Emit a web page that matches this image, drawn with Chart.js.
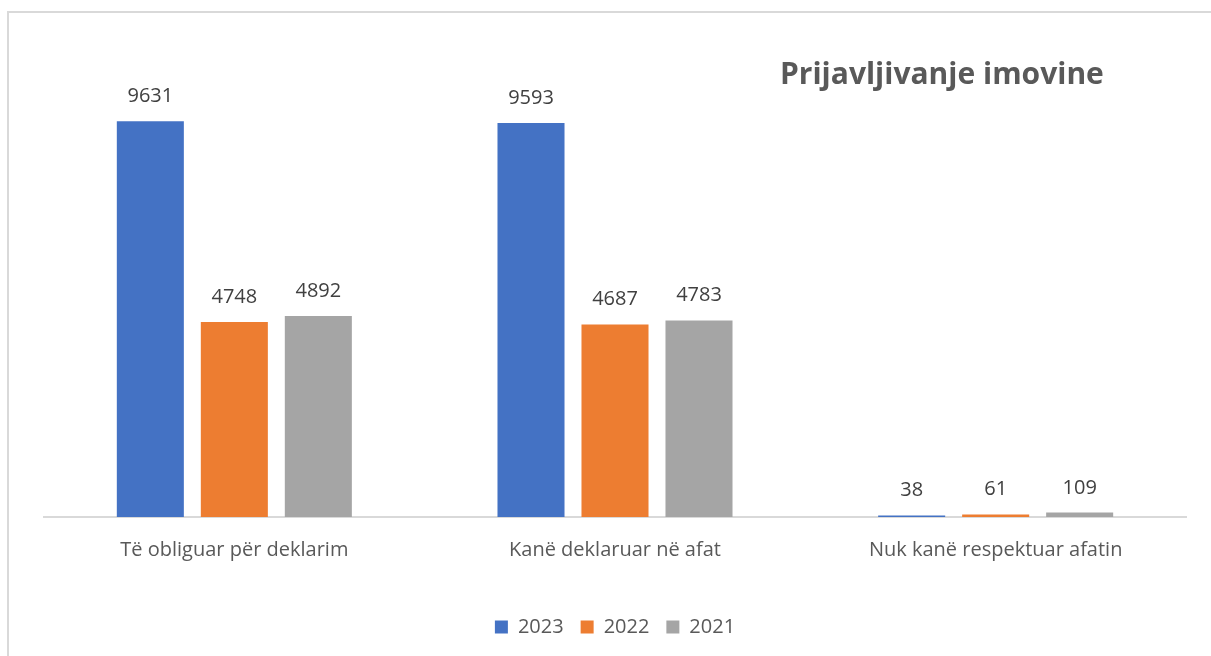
<!DOCTYPE html>
<html>
<head>
<meta charset="utf-8">
<script src="https://cdn.jsdelivr.net/npm/chart.js@4/dist/chart.umd.min.js"></script>
<style>
  body { margin: 0; background: #fff; }
  #wrap { position: relative; width: 1211px; height: 656px; overflow: hidden; }
  #frame { position: absolute; left: 7px; top: 11px; right: -10px; bottom: -10px;
           border-left: 2px solid #d9d9d9; border-top: 2px solid #d9d9d9; }
  #title { position: absolute; left: 780px; top: 58px; font: bold 30px "Open Sans"; line-height: 30px;
           color: #595959; white-space: nowrap; }
  canvas { position: absolute; left: 0; top: 0; }
</style>
</head>
<body>
<div id="wrap">
  <div id="frame"></div>
  <canvas id="assetChart" width="1211" height="656"></canvas>
  <div id="title">Prijavljivanje imovine</div>
</div>
<script>
// categories and series
var categories = ['Të obliguar për deklarim', 'Kanë deklaruar në afat', 'Nuk kanë respektuar afatin'];
var years = ['2023', '2022', '2021'];
var values2023 = [9631, 9593, 38];
var values2022 = [4748, 4687, 61];
var values2021 = [4892, 4783, 109];
var colors = ['#4472C4', '#ED7D31', '#A5A5A5'];

// draw the numbers above the bars
var valueLabels = {
  id: 'valueLabels',
  afterDatasetsDraw: function(chart) {
    var ctx = chart.ctx;
    ctx.save();
    ctx.font = '20px "Open Sans"';
    ctx.fillStyle = '#404040';
    ctx.textAlign = 'center';
    ctx.textBaseline = 'alphabetic';
    chart.data.datasets.forEach(function(ds, i) {
      chart.getDatasetMeta(i).data.forEach(function(bar, j) {
        ctx.fillText(String(ds.data[j]), bar.x, bar.y - 19);
      });
    });
    ctx.restore();
  }
};

var assetChart = new Chart(document.getElementById('assetChart').getContext('2d'), {
  type: 'bar',
  data: {
    labels: categories,
    datasets: [
      { label: years[0], data: values2023, backgroundColor: colors[0] },
      { label: years[1], data: values2022, backgroundColor: colors[1] },
      { label: years[2], data: values2021, backgroundColor: colors[2] },
    ],
  },
  options: {
    responsive: false,
    animation: false,
    datasets: { bar: { categoryPercentage: 0.662, barPercentage: 0.798 } },
    layout: { padding: { left: 44, right: 25, top: 24, bottom: 9 } },
    scales: {
      x: {
        grid: { display: false },
        border: { color: '#d9d9d9', width: 2 },
        ticks: { color: '#595959', font: { family: 'Open Sans', size: 20 }, padding: 13, maxRotation: 0 },
        afterFit: function(scale) { scale.height = 83; },
      },
      y: { display: false, min: 0, max: 12000 },
    },
    plugins: {
      legend: {
        position: 'bottom',
        labels: {
          color: '#595959',
          font: { family: 'Open Sans', size: 20 },
          boxWidth: 13,
          boxHeight: 13,
          padding: 17,
        },
      },
      tooltip: { enabled: false },
    },
  },
  plugins: [valueLabels],
});
</script>
</body>
</html>
